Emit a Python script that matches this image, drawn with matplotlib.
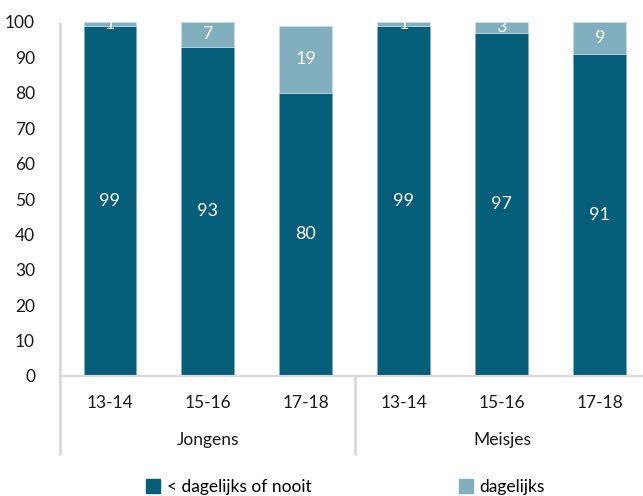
import matplotlib.pyplot as plt
import matplotlib.transforms as mtransforms
from matplotlib.patches import Patch

# data
age_groups = ['13-14', '15-16', '17-18', '13-14', '15-16', '17-18']
sexes = ['Jongens', 'Meisjes']
minder_dan_dagelijks = [99, 93, 80, 99, 97, 91]
dagelijks = [1, 7, 19, 1, 3, 9]

dark = '#055e79'
light = '#82afbe'
grid_grey = '#d9d9d9'

plt.rcParams['font.family'] = ['Lato', 'DejaVu Sans']

fig = plt.figure(figsize=(6.43, 4.96), dpi=100)
ax = fig.add_axes([60 / 643, 120 / 496, 1 - 60 / 643, 354 / 496])

x = list(range(len(age_groups)))
w = 0.54
b1 = ax.bar(x, minder_dan_dagelijks, w, color=dark, edgecolor='#7fb0c0', linewidth=0.5)
b2 = ax.bar(x, dagelijks, w, bottom=minder_dan_dagelijks, color=light,
            edgecolor='#c8dde4', linewidth=0.5)

for i in x:
    ax.text(i, minder_dan_dagelijks[i] / 2, str(minder_dan_dagelijks[i]),
            ha='center', va='center', color='white', fontsize=13)
    ax.text(i, minder_dan_dagelijks[i] + dagelijks[i] / 2, str(dagelijks[i]),
            ha='center', va='center', color='white', fontsize=13)

ax.set_ylim(0, 100)
ax.set_xlim(-0.51, 5.44)
ax.set_yticks(range(0, 101, 10))
ax.set_xticks(x)
ax.set_xticklabels(age_groups)
ax.tick_params(axis='both', length=0, labelsize=12.5, colors='#1a1a1a')
ax.tick_params(axis='y', pad=18)
ax.tick_params(axis='x', pad=14)
for s in ['top', 'right', 'left']:
    ax.spines[s].set_visible(False)
ax.spines['bottom'].set_color(grid_grey)
ax.spines['bottom'].set_linewidth(1.5)

# group lines and labels
trans = mtransforms.blended_transform_factory(ax.transData, fig.transFigure)
y_bottom = 1 - 455 / 496
y_axis = 120 / 496
y_top = 1 - 22 / 496
ax.plot([-0.51, -0.51], [y_bottom, y_top], transform=trans, color=grid_grey,
        lw=2, clip_on=False, solid_capstyle='butt')
ax.plot([2.5, 2.5], [y_bottom, y_axis], transform=trans, color=grid_grey,
        lw=2, clip_on=False, solid_capstyle='butt')
for j, sex in enumerate(sexes):
    fig.text(trans.transform((3 * j + 1, 0))[0] / fig.dpi / fig.get_figwidth(),
             1 - 440 / 496, sex, ha='center', va='center', fontsize=12.5,
             color='#1a1a1a')

handles = [Patch(color=dark), Patch(color=light)]
fig.legend(handles, ['< dagelijks of nooit', 'dagelijks'], loc='center',
           bbox_to_anchor=(0.537, 1 - 487 / 496), ncol=2, frameon=False,
           fontsize=12.5, handlelength=0.8, handleheight=0.8, handletextpad=0.4,
           columnspacing=8.5)

fig.savefig('out.png', dpi=100)
